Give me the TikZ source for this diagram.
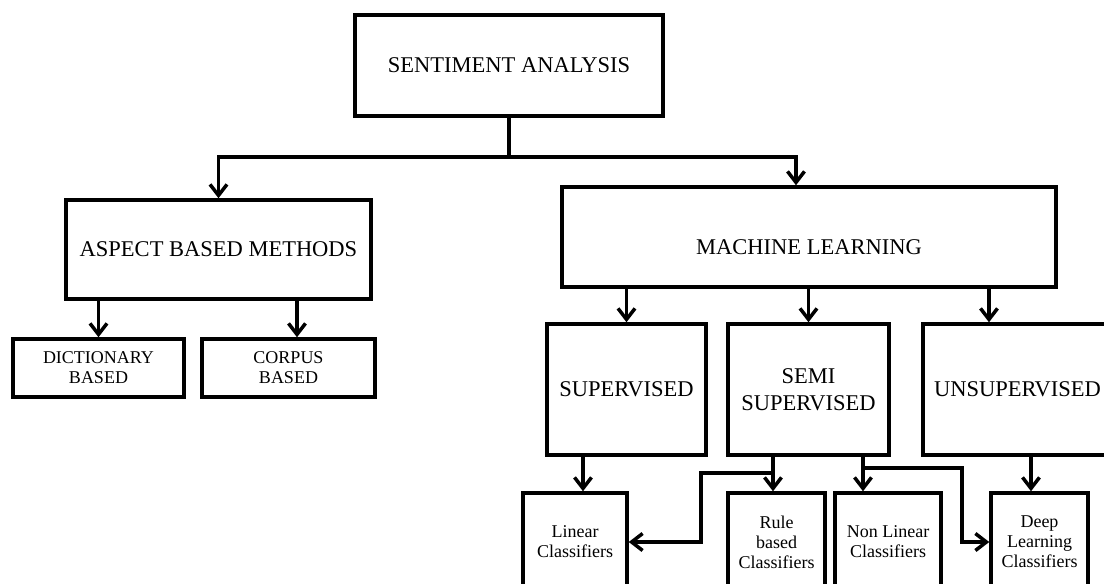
\documentclass[tikz,border=0pt]{standalone}
\usepackage{fontspec}
\setmainfont{Liberation Serif}
\usetikzlibrary{arrows.meta}

\begin{document}
\begin{tikzpicture}[x=1pt,y=1pt,yscale=-1,xscale=1,
  box/.style={draw, line width=3.5pt, align=center, inner sep=0pt, font=\fontsize{22.5}{27}\selectfont},
  smallbox/.style={box, font=\fontsize{18}{20}\selectfont},
  link/.style={line width=3.5pt},
  arr/.style={link, -{Straight Barb[length=11pt,width=17pt]}},
  arrs/.style={link, {Straight Barb[length=11pt,width=17pt]}-{Straight Barb[length=11pt,width=17pt]}}]
\useasboundingbox (0,0) rectangle (1104,584);
\clip (0,0) rectangle (1104,584);

%Shape: Rectangle
\node[box, minimum width=308pt, minimum height=101pt] (sa) at (509,65.5) {SENTIMENT ANALYSIS};
%Shape: Rectangle
\node[box, minimum width=305pt, minimum height=99pt] (aspect) at (218.5,249.5) {ASPECT BASED METHODS};
%Shape: Rectangle
\node[box, minimum width=494pt, minimum height=100pt, text height=35pt, text depth=0pt] (ml) at (809,237) {MACHINE LEARNING};

%Shape: Rectangle
\node[smallbox, minimum width=171pt, minimum height=58pt] (dict) at (98.5,368) {DICTIONARY\\BASED};
%Shape: Rectangle
\node[smallbox, minimum width=173pt, minimum height=58pt] (corpus) at (288.5,368) {CORPUS\\BASED};

%Shape: Rectangle
\node[box, minimum width=159pt, minimum height=131pt] (sup) at (626.5,389.5) {SUPERVISED};
%Shape: Rectangle
\node[box, minimum width=161pt, minimum height=131pt] (semi) at (808.5,389.5) {SEMI\\SUPERVISED};
%Shape: Rectangle
\node[box, minimum width=189pt, minimum height=131pt] (unsup) at (1017.5,389.5) {UNSUPERVISED};

%Shape: Rectangle
\node[smallbox, minimum width=104pt, minimum height=98pt] (lin) at (575,542) {Linear\\Classifiers};
%Shape: Rectangle
\node[smallbox, minimum width=97pt, minimum height=98pt] (rule) at (776.5,542) {Rule\\based\\Classifiers};
%Shape: Rectangle
\node[smallbox, minimum width=106pt, minimum height=98pt] (nonlin) at (888,542) {Non Linear\\Classifiers};
%Shape: Rectangle
\node[smallbox, minimum width=97pt, minimum height=98pt] (deep) at (1039.5,542) {Deep\\Learning\\Classifiers};

% entry points of the arrows
\coordinate (mlin) at ([xshift=-13pt]ml.north);
\coordinate (unsupin) at ([xshift=-28.5pt]unsup.north);
\coordinate (corpusin) at ([xshift=8.5pt]corpus.north);
\coordinate (linin) at ([xshift=8pt]lin.north);
\coordinate (rulein) at ([xshift=-3.5pt]rule.north);
\coordinate (nonlinin) at ([xshift=-25pt]nonlin.north);
\coordinate (deepin) at ([xshift=-8.5pt]deep.north);
\coordinate (split) at (509,157);
\coordinate (ruletap) at (773,473);
\coordinate (nonlintap) at (863,468);

%Straight Lines
\draw[link] (sa.south) -- (split);
\draw[arrs] (aspect.north) |- (split) -| (mlin);
%Straight Lines
\draw[arr] (aspect.south -| dict.north) -- (dict.north);
\draw[arr] (aspect.south -| corpusin) -- (corpusin);
%Straight Lines
\draw[arr] (ml.south -| sup.north) -- (sup.north);
\draw[arr] (ml.south -| semi.north) -- (semi.north);
\draw[arr] (ml.south -| unsupin) -- (unsupin);
%Straight Lines
\draw[arr] (sup.south -| linin) -- (linin);
\draw[arr] (semi.south -| rulein) -- (rulein);
\draw[arr] (semi.south -| nonlinin) -- (nonlinin);
\draw[arr] (unsup.south -| deepin) -- (deepin);
%Straight Lines
\draw[arr] (ruletap) -- ++(-72,0) |- (lin.east);
\draw[arr] (nonlintap) -- ++(99,0) |- (deep.west);

\end{tikzpicture}
\end{document}
